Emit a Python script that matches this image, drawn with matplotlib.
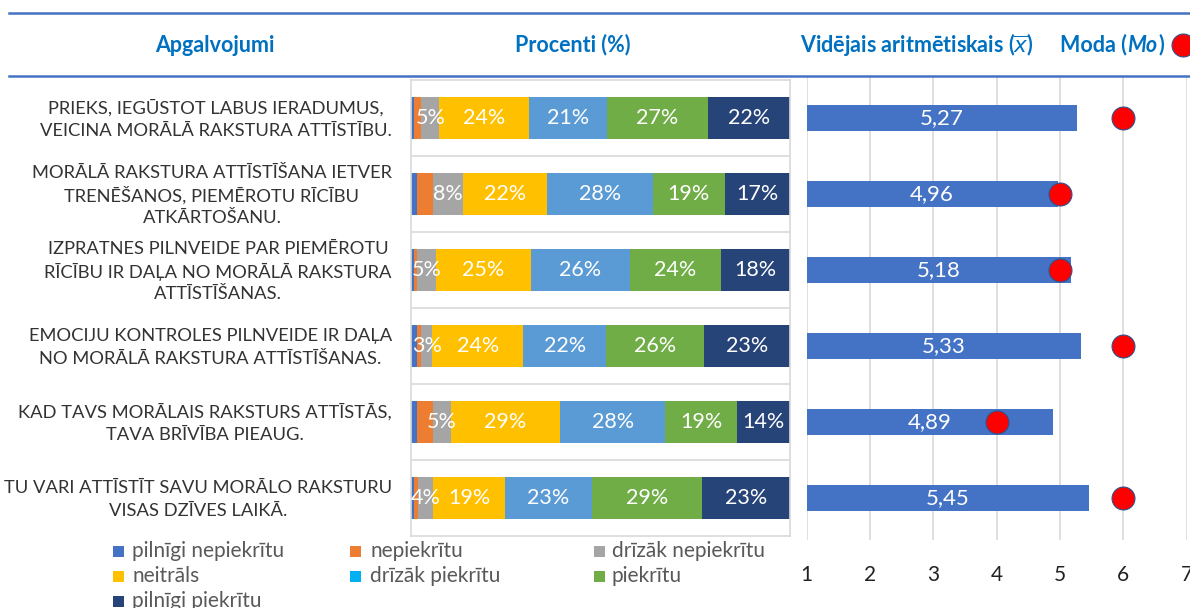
import matplotlib
matplotlib.use('Agg')
import matplotlib.pyplot as plt
from matplotlib.patches import Rectangle
from matplotlib.lines import Line2D
import numpy as np

FONT = 'Lato'
plt.rcParams['font.family'] = [FONT, 'DejaVu Sans']

# ---------------- data ----------------
statements = [
    "PRIEKS, IEGŪSTOT LABUS IERADUMUS,\nVEICINA MORĀLĀ RAKSTURA ATTĪSTĪBU.",
    "MORĀLĀ RAKSTURA ATTĪSTĪŠANA IETVER\nTRENĒŠANOS, PIEMĒROTU RĪCĪBU\nATKĀRTOŠANU.",
    "IZPRATNES PILNVEIDE PAR PIEMĒROTU\nRĪCĪBU IR DAĻA NO MORĀLĀ RAKSTURA\nATTĪSTĪŠANAS.",
    "EMOCIJU KONTROLES PILNVEIDE IR DAĻA\nNO MORĀLĀ RAKSTURA ATTĪSTĪŠANAS.",
    "KAD TAVS MORĀLAIS RAKSTURS ATTĪSTĀS,\nTAVA BRĪVĪBA PIEAUG.",
    "TU VARI ATTĪSTĪT SAVU MORĀLO RAKSTURU\nVISAS DZĪVES LAIKĀ.",
]

answer_labels = ["pilnīgi nepiekrītu", "nepiekrītu", "drīzāk nepiekrītu", "neitrāls",
                 "drīzāk piekrītu", "piekrītu", "pilnīgi piekrītu"]

fully_disagree  = [0.9, 1.6, 0.9, 1.6, 1.6, 0.9]
disagree        = [1.8, 4.3, 0.7, 1.1, 4.1, 0.9]
rather_disagree = [4.8, 7.9, 5.0, 2.9, 4.8, 4.1]
neutral         = [23.6, 22.0, 25.1, 24.0, 28.9, 18.9]
rather_agree    = [20.6, 28.0, 26.0, 21.9, 27.7, 23.0]
agree           = [26.7, 19.0, 24.2, 25.7, 19.0, 29.1]
fully_agree     = [21.6, 17.2, 18.1, 22.8, 13.9, 23.1]

means = [5.27, 4.96, 5.18, 5.33, 4.89, 5.45]
modes = [6, 5, 5, 6, 4, 6]
scale_ticks = [1, 2, 3, 4, 5, 6, 7]

series = [fully_disagree, disagree, rather_disagree, neutral, rather_agree, agree, fully_agree]
show_labels = [False, False, True, True, True, True, True]
bar_colors = ['#4472C4', '#ED7D31', '#A5A5A5', '#FFC000', '#5B9BD5', '#70AD47', '#264478']
legend_colors = ['#4472C4', '#ED7D31', '#A5A5A5', '#FFC000', '#00B0F0', '#70AD47', '#264478']

HEAD = '#0070C0'
GRID = '#D9D9D9'
TXT = '#333333'

W, H = 1190, 608
fig = plt.figure(figsize=(W / 100, H / 100), dpi=100)
renderer = fig.canvas.get_renderer()

def fx(px):
    return px / W

def fy(py):
    return 1 - py / H

n = len(statements)
ypos = np.arange(n)

# ---------------- left stacked bar chart ----------------
axL = fig.add_axes([fx(411), fy(536), fx(790) - fx(411), fy(80) - fy(536)])
left = np.zeros(n)
for vals, col, lab in zip(series, bar_colors, show_labels):
    vals = np.array(vals)
    axL.barh(ypos, vals, left=left, height=0.55, color=col, linewidth=0)
    if lab:
        for i, v in enumerate(vals):
            axL.text(left[i] + v / 2, i, f"{v:.0f}%", ha='center', va='center',
                     color='white', fontsize=15.5)
    left += vals
axL.set_xlim(0, 100)
axL.set_ylim(n - 0.5, -0.5)
axL.set_xticks([])
axL.set_yticks(np.arange(n - 1) + 0.5)
axL.set_yticklabels([])
axL.tick_params(axis='y', length=0)
axL.grid(axis='y', color=GRID, linewidth=1.2)
axL.set_axisbelow(True)
for s in axL.spines.values():
    s.set_color(GRID)
    s.set_linewidth(1.2)

# category labels: block right edge at x_right, each line centred in block, even spacing
LBL_FS = 13.2
LINE_PX = 22.5
x_right = 392
for i, s in enumerate(statements):
    lines = s.split("\n")
    widths = []
    for ln in lines:
        t = fig.text(0, 0, ln, fontsize=LBL_FS)
        widths.append(t.get_window_extent(renderer).width)
        t.remove()
    block_w = max(widths)
    xc = x_right - block_w / 2
    _, yc_disp = axL.transData.transform((0, i))
    yc = H - yc_disp
    nl = len(lines)
    for k, ln in enumerate(lines):
        yy = yc + (k - (nl - 1) / 2) * LINE_PX
        fig.text(fx(xc), fy(yy), ln, ha='center', va='center_baseline',
                 fontsize=LBL_FS, color=TXT)

# ---------------- right mean / mode chart ----------------
pad_top = 3 / 76
pad_bot = 4 / 76
axR = fig.add_axes([fx(806.7), fy(540), fx(1186.7) - fx(806.7), fy(77) - fy(540)])
axR.barh(ypos, means, height=0.35, color='#4472C4', linewidth=0)
for i, m in enumerate(means):
    axR.text((1 + m) / 2, i, f"{m:.2f}".replace('.', ','), ha='center', va='center',
             color='white', fontsize=16)
axR.plot(modes, ypos, linestyle='none', marker='o', markersize=16.5,
         markerfacecolor='#FF0000', markeredgecolor='#2F528F', markeredgewidth=0.8,
         zorder=5)
axR.set_xlim(1, 7)
axR.set_ylim(n - 0.5 + pad_bot, -0.5 - pad_top)
axR.set_xticks(scale_ticks)
axR.set_xticklabels([str(t) for t in scale_ticks], fontsize=15, color='#222222')
axR.tick_params(axis='x', length=0, pad=18)
axR.set_yticks([])
axR.grid(axis='x', color=GRID, linewidth=1.2)
axR.set_axisbelow(True)
for s in axR.spines.values():
    s.set_visible(False)

# ---------------- header ----------------
for yy in (13, 76):
    fig.add_artist(Line2D([fx(9), 1.0], [fy(yy), fy(yy)], transform=fig.transFigure,
                          color='#4472C4', linewidth=1.8))

hy = fy(45)
hfs = 15.5
fig.text(fx(215), hy, "Apgalvojumi", ha='center', va='center', fontsize=hfs,
         fontweight='bold', color=HEAD)
fig.text(fx(573), hy, "Procenti (%)", ha='center', va='center', fontsize=hfs,
         fontweight='bold', color=HEAD)
fig.text(fx(800), hy, r"Vidējais aritmētiskais ($\overline{x}$)", ha='left', va='center',
         fontsize=hfs, fontweight='bold', color=HEAD)

t1 = fig.text(fx(1060), hy, "Moda (", ha='left', va='center', fontsize=hfs,
              fontweight='bold', color=HEAD)
bb = t1.get_window_extent(renderer)
t2 = fig.text(bb.x1 / W, hy, "Mo", ha='left', va='center', fontsize=hfs,
              fontweight='bold', fontstyle='italic', color=HEAD)
bb2 = t2.get_window_extent(renderer)
fig.text(bb2.x1 / W + 0.001, hy, ")", ha='left', va='center', fontsize=hfs,
         fontweight='bold', color=HEAD)
fig.add_artist(Line2D([fx(1183)], [hy], transform=fig.transFigure, linestyle='none',
                      marker='o', markersize=16.5, markerfacecolor='#FF0000',
                      markeredgecolor='#2F528F', markeredgewidth=0.8))

# ---------------- legend ----------------
col_sq = [113, 350, 594]
col_tx = [132, 370, 612]
row_y = [551, 576, 601]
for k, (lab, col) in enumerate(zip(answer_labels, legend_colors)):
    c, r = k % 3, k // 3
    fig.add_artist(Rectangle((fx(col_sq[c]), fy(row_y[r] + 5.5)), fx(11), 11 / H,
                             transform=fig.transFigure, facecolor=col, edgecolor='none'))
    fig.text(fx(col_tx[c]), fy(row_y[r]), lab, ha='left', va='center', fontsize=15,
             color='#595959')

fig.savefig('out.png', dpi=100)
